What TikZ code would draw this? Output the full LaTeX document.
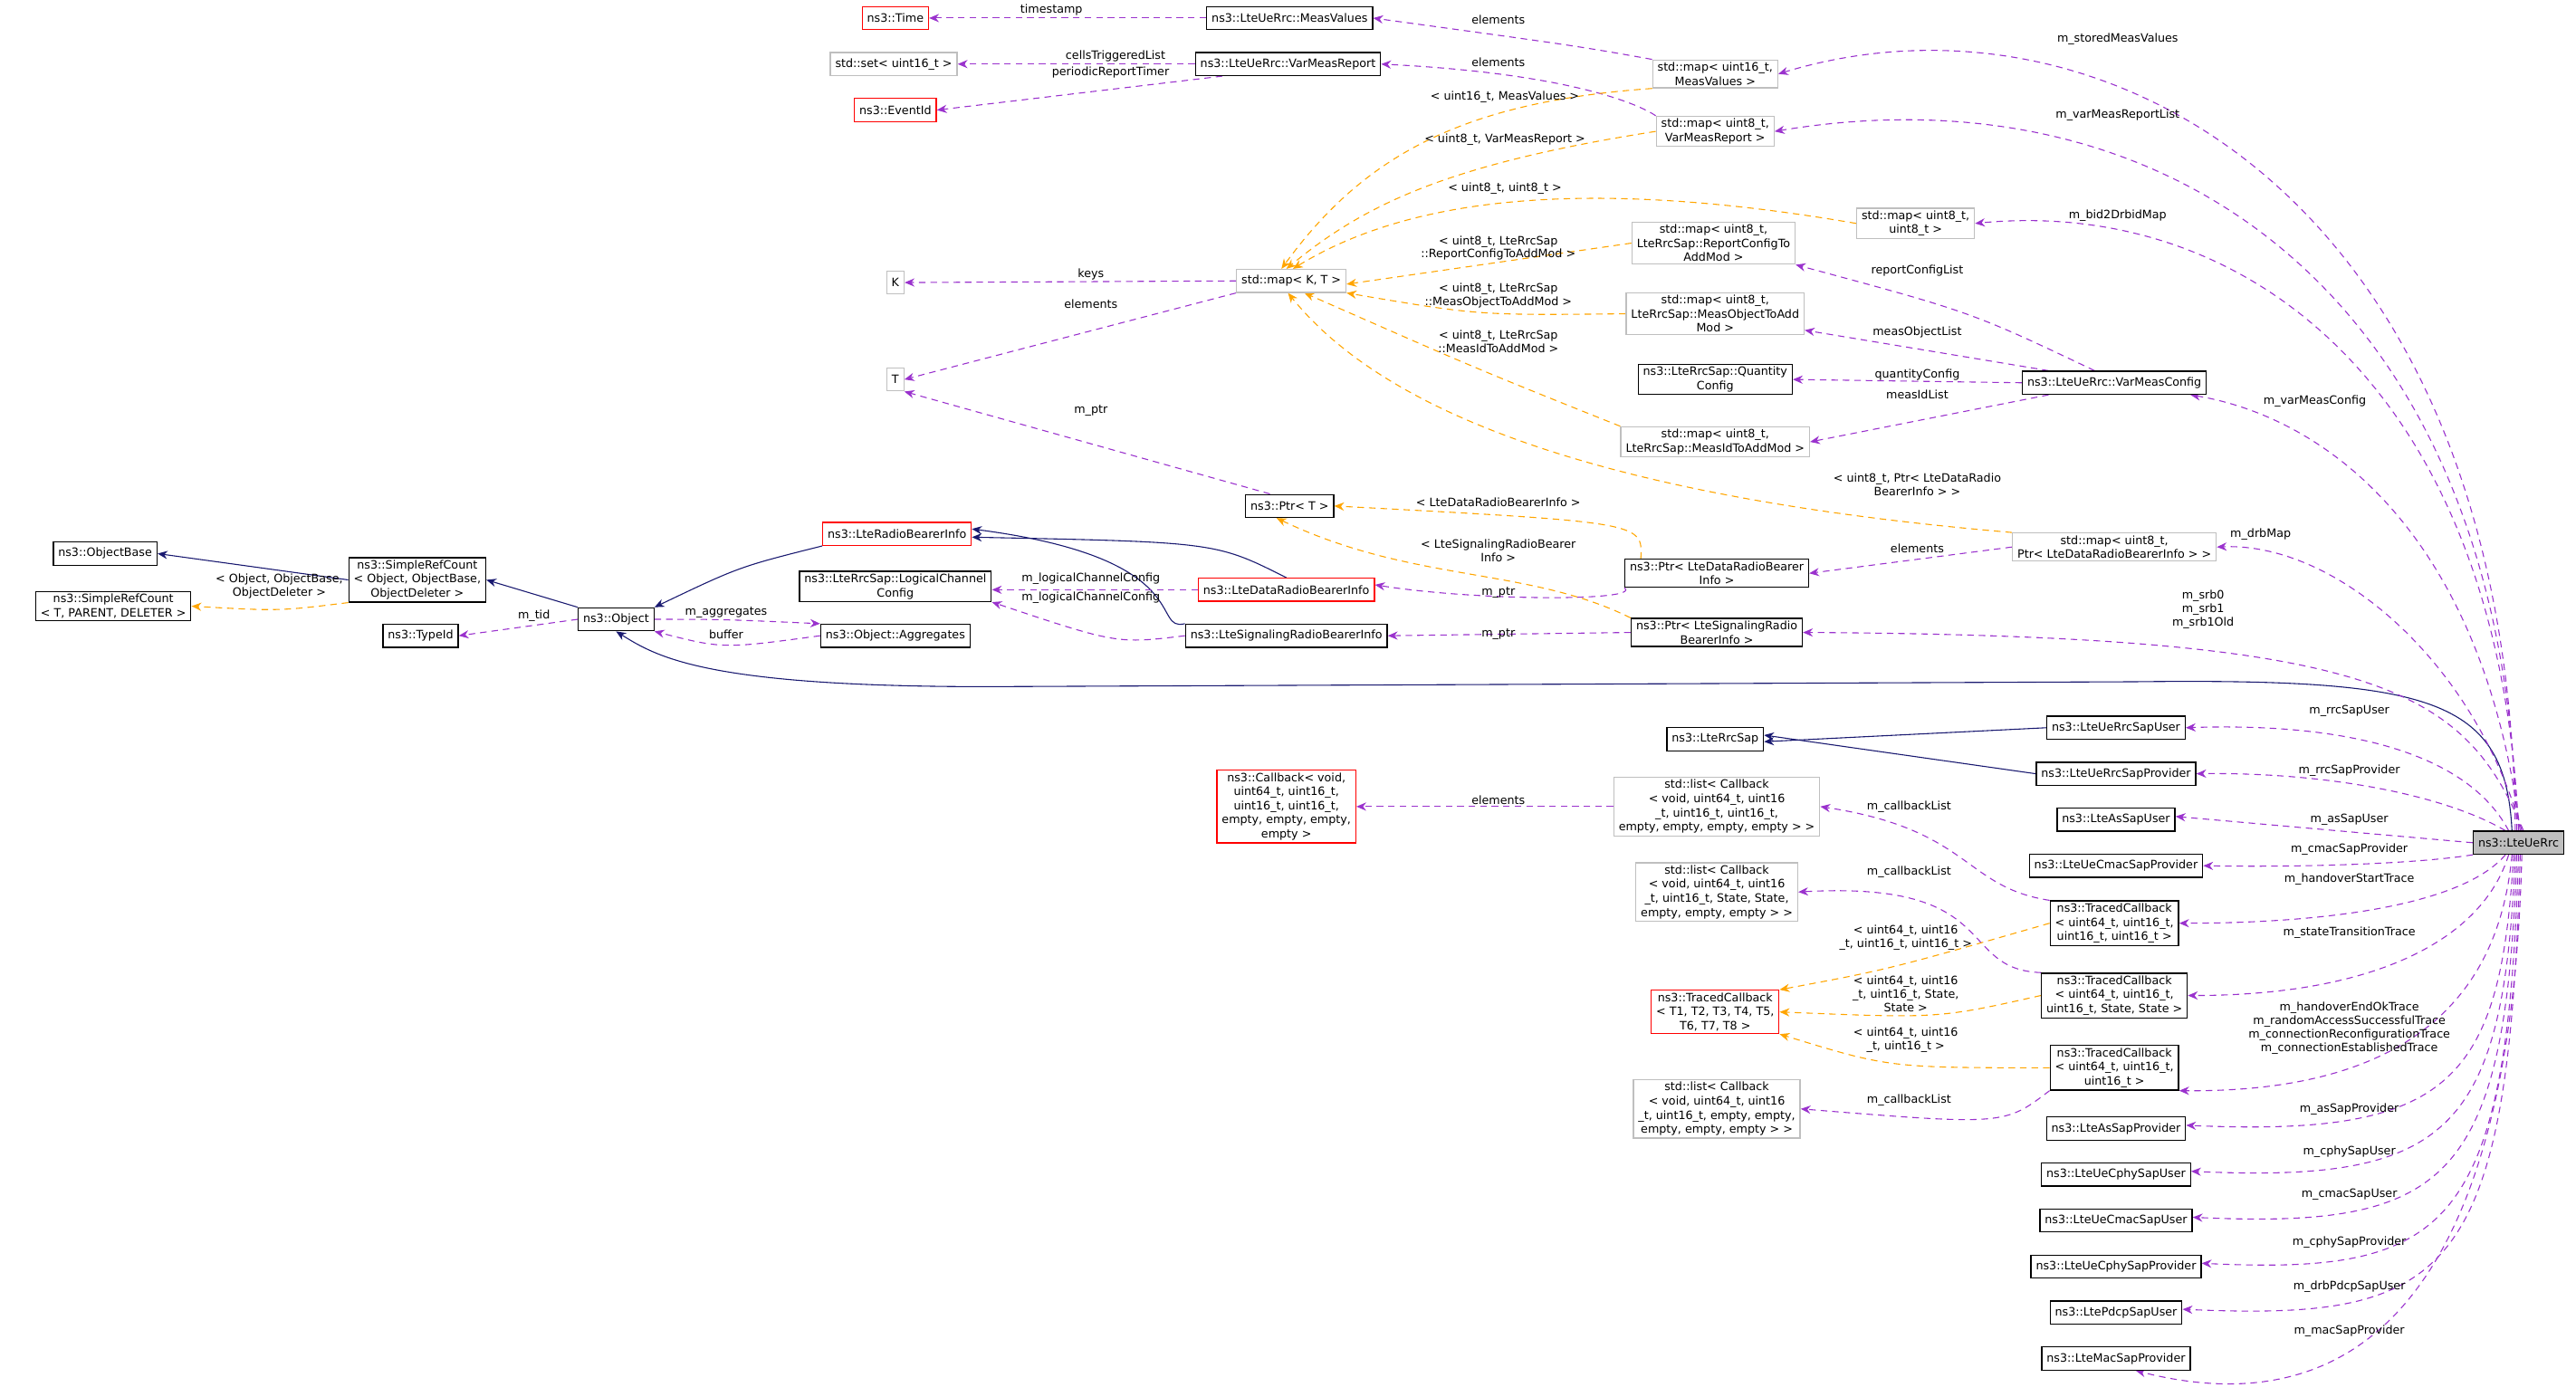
\documentclass[tikz,border=0pt]{standalone}
\usepackage{fontspec}
\setmainfont{DejaVu Sans}
\usetikzlibrary{arrows.meta,backgrounds}
\definecolor{pc}{HTML}{9A32CD}
\definecolor{oc}{HTML}{FFA500}
\definecolor{nc}{HTML}{191970}
\begin{document}
\begin{tikzpicture}[x=1pt,y=-1pt,
 box/.style={draw=black,line width=0.7pt,fill=white,font=\fontsize{7}{8.6}\selectfont,align=center,inner xsep=3pt,inner ysep=1.5pt,minimum height=14pt},
 gbox/.style={box,draw={rgb,255:red,191;green,191;blue,191}},
 rbox/.style={box,draw=red},
 lbl/.style={font=\fontsize{7}{8.2}\selectfont,align=center,inner sep=0pt},
 pe/.style={-{Stealth[length=6pt,width=5pt,fill=pc]},draw=pc,dash pattern=on 4pt off 3pt,semithick},
 oe/.style={-{Stealth[length=6pt,width=5pt,fill=oc]},draw=oc,dash pattern=on 4pt off 3pt,semithick},
 ne/.style={-{Stealth[length=6pt,width=5pt,fill=nc]},draw=nc,semithick}]
\useasboundingbox (0,0) rectangle (1568,850);
% nodes
\node[rbox] (time) at (545,11) {ns3::Time};
\node[box] (measv) at (785,11) {ns3::LteUeRrc::MeasValues};
\node[gbox] (set) at (544,39) {std::set< uint16\_t >};
\node[box] (varrep) at (784,39) {ns3::LteUeRrc::VarMeasReport};
\node[rbox] (event) at (545,67) {ns3::EventId};
\node[gbox] (mmv) at (1044,45) {std::map< uint16\_t,\\MeasValues >};
\node[gbox] (mvr) at (1044,80) {std::map< uint8\_t,\\VarMeasReport >};
\node[gbox] (mu8) at (1166,136) {std::map< uint8\_t,\\uint8\_t >};
\node[gbox] (mrc) at (1043,148) {std::map< uint8\_t,\\LteRrcSap::ReportConfigTo\\AddMod >};
\node[gbox] (mmo) at (1044,191) {std::map< uint8\_t,\\LteRrcSap::MeasObjectToAdd\\Mod >};
\node[box] (qc) at (1044,231) {ns3::LteRrcSap::Quantity\\Config};
\node[gbox] (mmi) at (1044,269) {std::map< uint8\_t,\\LteRrcSap::MeasIdToAddMod >};
\node[box] (vmc) at (1287,233) {ns3::LteUeRrc::VarMeasConfig};
\node[gbox] (K) at (545,172) {K};
\node[gbox] (mkt) at (786,171) {std::map< K, T >};
\node[gbox] (T) at (545,231) {T};
\node[box] (ptrt) at (785,308) {ns3::Ptr< T >};
\node[gbox] (mptr) at (1287,333) {std::map< uint8\_t,\\Ptr< LteDataRadioBearerInfo > >};
\node[box] (pdata) at (1045,349) {ns3::Ptr< LteDataRadioBearer\\Info >};
\node[box] (psig) at (1045,385) {ns3::Ptr< LteSignalingRadio\\BearerInfo >};
\node[rbox] (lrb) at (546,325) {ns3::LteRadioBearerInfo};
\node[box] (lcc) at (545,357) {ns3::LteRrcSap::LogicalChannel\\Config};
\node[rbox] (drb) at (783,359) {ns3::LteDataRadioBearerInfo};
\node[box] (srb) at (783,387) {ns3::LteSignalingRadioBearerInfo};
\node[box] (agg) at (545,387) {ns3::Object::Aggregates};
\node[box] (obj) at (375,377) {ns3::Object};
\node[box] (tid) at (256,387) {ns3::TypeId};
\node[box] (src) at (254,353) {ns3::SimpleRefCount\\< Object, ObjectBase,\\ObjectDeleter >};
\node[box] (ob) at (64,337) {ns3::ObjectBase};
\node[box] (srct) at (69,369) {ns3::SimpleRefCount\\< T, PARENT, DELETER >};
\node[box] (lrs) at (1044,450) {ns3::LteRrcSap};
\node[box] (rsu) at (1288,443) {ns3::LteUeRrcSapUser};
\node[box] (rsp) at (1288,471) {ns3::LteUeRrcSapProvider};
\node[box] (asu) at (1288,499) {ns3::LteAsSapUser};
\node[box] (csp) at (1288,527) {ns3::LteUeCmacSapProvider};
\node[box] (tcb1) at (1287,562) {ns3::TracedCallback\\< uint64\_t, uint16\_t,\\uint16\_t, uint16\_t >};
\node[box] (tcb2) at (1287,606) {ns3::TracedCallback\\< uint64\_t, uint16\_t,\\uint16\_t, State, State >};
\node[box] (tcb3) at (1287,650) {ns3::TracedCallback\\< uint64\_t, uint16\_t,\\uint16\_t >};
\node[box] (asp) at (1288,687) {ns3::LteAsSapProvider};
\node[box] (cpu) at (1288,715) {ns3::LteUeCphySapUser};
\node[box] (cmu) at (1288,743) {ns3::LteUeCmacSapUser};
\node[box] (cpp) at (1288,771) {ns3::LteUeCphySapProvider};
\node[box] (pdu) at (1288,799) {ns3::LtePdcpSapUser};
\node[box] (msp) at (1288,827) {ns3::LteMacSapProvider};
\node[box,fill={rgb,255:red,191;green,191;blue,191}] (rrc) at (1533,513) {ns3::LteUeRrc};
\node[rbox] (cb) at (783,491) {ns3::Callback< void,\\uint64\_t, uint16\_t,\\uint16\_t, uint16\_t,\\empty, empty, empty,\\empty >};
\node[gbox] (lcb1) at (1045,491) {std::list< Callback\\< void, uint64\_t, uint16\\\_t, uint16\_t, uint16\_t,\\empty, empty, empty, empty > >};
\node[gbox] (lcb2) at (1045,543) {std::list< Callback\\< void, uint64\_t, uint16\\\_t, uint16\_t, State, State,\\empty, empty, empty > >};
\node[rbox] (tct) at (1044,616) {ns3::TracedCallback\\< T1, T2, T3, T4, T5,\\T6, T7, T8 >};
\node[gbox] (lcb3) at (1045,675) {std::list< Callback\\< void, uint64\_t, uint16\\\_t, uint16\_t, empty, empty,\\empty, empty, empty > >};
\begin{scope}[on background layer]
% navy
\draw[ne] (src.west) -- (ob.east);
\draw[ne] (obj.north west) -- (src.east);
\draw[ne] (lrb.south west) .. controls (450,345) .. (obj.north east);
\draw[ne] (drb.north) .. controls (740,330) .. ([yshift=-2pt]lrb.east);
\draw[ne] (srb.north west) .. controls (700,385) and (730,340) .. ([yshift=3pt]lrb.east);
\coordinate (bend) at (600,418);
\draw[ne] ([xshift=-4pt]rrc.north) .. controls (1525,425) and (1480,413) .. (1300,415) -- (bend) .. controls (430,418) and (400,400) .. (obj.south);
\draw[ne] (rsu.west) -- ([yshift=-1.5pt]lrs.east);
\draw[ne] (rsp.west) -- ([yshift=2.5pt]lrs.east);
% purple
\draw[pe] (measv.west) -- (time.east);
\draw[pe] (varrep.west) -- (set.east);
\draw[pe] ([xshift=-40pt]varrep.south) -- (event.east);
\draw[pe] (mmv.north west) .. controls (960,28) .. (measv.east);
\draw[pe] (mvr.north west) .. controls (1000,65) and (960,45) .. (varrep.east);
\draw[pe] (mkt.west) -- (K.east);
\draw[pe] (mkt.south west) -- (T.east);
\draw[pe] ([xshift=-12pt]ptrt.north) -- (T.south east);
\draw[pe] ([xshift=-12pt]vmc.north) .. controls (1200,190) .. (mrc.south east);
\draw[pe] ([xshift=-40pt]vmc.north) -- (mmo.east|-0,201);
\draw[pe] (vmc.west) -- (qc.east);
\draw[pe] ([xshift=-40pt]vmc.south) -- (mmi.east);
\draw[pe] (mptr.west) -- (pdata.east);
\draw[pe] (pdata.south west) .. controls (1000,366) and (900,366) .. ([yshift=3pt]drb.east);
\draw[pe] (psig.west) -- (srb.east);
\draw[pe] (drb.west) -- ([yshift=-2pt]lcc.east);
\draw[pe] (srb.west) .. controls (680,392) .. (lcc.south east);
\draw[pe] (obj.west) -- (tid.east);
\draw[pe] (obj.east) .. controls (440,377) .. (agg.north west);
\draw[pe] (agg.west) .. controls (440,395) .. (obj.south east);
\draw[pe] (lcb1.west) -- (cb.east);
\draw[pe] (tcb1.north west) .. controls (1195,540) and (1200,505) .. (lcb1.east);
\draw[pe] (tcb2.north west) .. controls (1190,590) and (1220,536) .. (lcb2.east);
\draw[pe] (tcb3.south west) .. controls (1220,685) .. (lcb3.east);
% from rrc
\draw[pe] ([xshift=-2pt]rrc.north) .. controls (1528,120) and (1280,-15) .. (mmv.east);
\draw[pe] ([xshift=-1pt]rrc.north) .. controls (1525,180) and (1320,40) .. (mvr.east);
\draw[pe] (rrc.north) .. controls (1522,240) and (1370,120) .. (mu8.east);
\draw[pe] ([xshift=1pt]rrc.north) .. controls (1512,330) and (1420,255) .. ([xshift=-10pt]vmc.south east);
\draw[pe] ([xshift=2pt]rrc.north) .. controls (1505,400) and (1420,330) .. (mptr.east);
\draw[pe] ([xshift=3pt]rrc.north) .. controls (1500,420) and (1450,387) .. (psig.east);
\draw[pe] ([xshift=-6pt]rrc.north) .. controls (1500,455) and (1420,440) .. (rsu.east);
\draw[pe] ([xshift=-8pt]rrc.north) .. controls (1490,485) and (1420,470) .. (rsp.east);
\draw[pe] (rrc.west) -- ([yshift=2pt]asu.east);
\draw[pe] (rrc.south west) .. controls (1470,526) and (1400,528) .. (csp.east);
\draw[pe] ([xshift=-8pt]rrc.south) .. controls (1500,550) and (1420,562) .. (tcb1.east);
\draw[pe] ([xshift=-6pt]rrc.south) .. controls (1510,575) and (1440,606) .. (tcb2.east);
\draw[pe] ([xshift=-4pt]rrc.south) .. controls (1520,620) and (1450,665) .. (tcb3.south east);
\draw[pe] ([xshift=-3pt]rrc.south) .. controls (1522,660) and (1490,692) .. ([yshift=2pt]asp.east);
\draw[pe] ([xshift=-2pt]rrc.south) .. controls (1524,690) and (1490,720) .. ([yshift=2pt]cpu.east);
\draw[pe] ([xshift=-1pt]rrc.south) .. controls (1525,720) and (1490,748) .. ([yshift=2pt]cmu.east);
\draw[pe] (rrc.south) .. controls (1526,750) and (1490,776) .. ([yshift=2pt]cpp.east);
\draw[pe] ([xshift=1pt]rrc.south) .. controls (1527,780) and (1490,804) .. ([yshift=2pt]pdu.east);
\draw[pe] ([xshift=2pt]rrc.south) .. controls (1528,810) and (1420,865) .. ([xshift=12pt]msp.south);
% orange
\draw[oe] (mmv.south west) .. controls (890,62) and (830,95) .. ([xshift=-6pt]mkt.north);
\draw[oe] (mvr.west) .. controls (880,100) and (830,125) .. ([xshift=-3pt]mkt.north);
\draw[oe] (mu8.west) .. controls (950,105) and (850,125) .. ([xshift=1pt]mkt.north);
\draw[oe] (mrc.west) -- ([yshift=-2pt]mkt.east);
\draw[oe] (mmo.west) .. controls (900,192) .. (mkt.south east);
\draw[oe] (mmi.north west) .. controls (900,225) .. ([xshift=8pt]mkt.south);
\draw[oe] (mptr.north west) .. controls (1000,305) and (850,260) .. ([xshift=-2pt]mkt.south);
\draw[oe] ([xshift=10pt]pdata.north west) .. controls (1000,318) .. (ptrt.east);
\draw[oe] (psig.north west) .. controls (930,345) and (860,355) .. ([xshift=-8pt]ptrt.south);
\draw[oe] (src.south west) .. controls (170,372) .. (srct.east);
\draw[oe] (tcb1.west) .. controls (1150,590) .. (tct.north east);
\draw[oe] (tcb2.west) .. controls (1180,620) .. (tct.east);
\draw[oe] (tcb3.west) .. controls (1150,650) .. (tct.south east);
\end{scope}
% labels
\node[lbl] (l1) at (640,6) {timestamp};
\node[lbl] (l2) at (679,34) {cellsTriggeredList};
\node[lbl] (l3) at (676,44) {periodicReportTimer};
\node[lbl] (l4) at (912,12) {elements};
\node[lbl] (l5) at (912,38) {elements};
\node[lbl] (l6) at (664,167) {keys};
\node[lbl] (l7) at (664,185) {elements};
\node[lbl] (l8) at (664,250) {m\_ptr};
\node[lbl] (l9) at (1167,165) {reportConfigList};
\node[lbl] (l10) at (1167,202) {measObjectList};
\node[lbl] (l11) at (1167,228) {quantityConfig};
\node[lbl] (l12) at (1167,240) {measIdList};
\node[lbl] (l13) at (1167,334) {elements};
\node[lbl] (l14) at (912,361) {m\_ptr};
\node[lbl] (l15) at (912,386) {m\_ptr};
\node[lbl] (l16) at (664,352) {m\_logicalChannelConfig};
\node[lbl] (l17) at (664,364) {m\_logicalChannelConfig};
\node[lbl] (l18) at (325,375) {m\_tid};
\node[lbl] (l19) at (442,373) {m\_aggregates};
\node[lbl] (l20) at (442,386) {buffer};
\node[lbl] (l21) at (912,487) {elements};
\node[lbl] (l22) at (1162,491) {m\_callbackList};
\node[lbl] (l23) at (1162,531) {m\_callbackList};
\node[lbl] (l24) at (1162,670) {m\_callbackList};
\node[lbl] (l25) at (1289,24) {m\_storedMeasValues};
\node[lbl] (l26) at (1289,70) {m\_varMeasReportList};
\node[lbl] (l27) at (1289,131) {m\_bid2DrbidMap};
\node[lbl] (l28) at (1409,244) {m\_varMeasConfig};
\node[lbl] (l29) at (1376,325) {m\_drbMap};
\node[lbl] (l30) at (1341,371) {m\_srb0\\m\_srb1\\m\_srb1Old};
\node[lbl] (l31) at (1430,433) {m\_rrcSapUser};
\node[lbl] (l32) at (1430,469) {m\_rrcSapProvider};
\node[lbl] (l33) at (1430,499) {m\_asSapUser};
\node[lbl] (l34) at (1430,517) {m\_cmacSapProvider};
\node[lbl] (l35) at (1430,535) {m\_handoverStartTrace};
\node[lbl] (l36) at (1430,568) {m\_stateTransitionTrace};
\node[lbl] (l37) at (1430,626) {m\_handoverEndOkTrace\\m\_randomAccessSuccessfulTrace\\m\_connectionReconfigurationTrace\\m\_connectionEstablishedTrace};
\node[lbl] (l38) at (1430,675) {m\_asSapProvider};
\node[lbl] (l39) at (1430,701) {m\_cphySapUser};
\node[lbl] (l40) at (1430,727) {m\_cmacSapUser};
\node[lbl] (l41) at (1430,756) {m\_cphySapProvider};
\node[lbl] (l42) at (1430,783) {m\_drbPdcpSapUser};
\node[lbl] (l43) at (1430,810) {m\_macSapProvider};
\node[lbl] (o1) at (916,59) {< uint16\_t, MeasValues >};
\node[lbl] (o2) at (916,85) {< uint8\_t, VarMeasReport >};
\node[lbl] (o3) at (916,115) {< uint8\_t, uint8\_t >};
\node[lbl] (o4) at (912,151) {< uint8\_t, LteRrcSap\\::ReportConfigToAddMod >};
\node[lbl] (o5) at (912,180) {< uint8\_t, LteRrcSap\\::MeasObjectToAddMod >};
\node[lbl] (o6) at (912,208) {< uint8\_t, LteRrcSap\\::MeasIdToAddMod >};
\node[lbl] (o7) at (1167,295) {< uint8\_t, Ptr< LteDataRadio\\BearerInfo > >};
\node[lbl] (o8) at (912,306) {< LteDataRadioBearerInfo >};
\node[lbl] (o9) at (912,335) {< LteSignalingRadioBearer\\Info >};
\node[lbl] (o10) at (170,357) {< Object, ObjectBase,\\ObjectDeleter >};
\node[lbl] (o11) at (1160,571) {< uint64\_t, uint16\\\_t, uint16\_t, uint16\_t >};
\node[lbl] (o12) at (1160,605) {< uint64\_t, uint16\\\_t, uint16\_t, State,\\State >};
\node[lbl] (o13) at (1160,633) {< uint64\_t, uint16\\\_t, uint16\_t >};
\end{tikzpicture}
\end{document}
